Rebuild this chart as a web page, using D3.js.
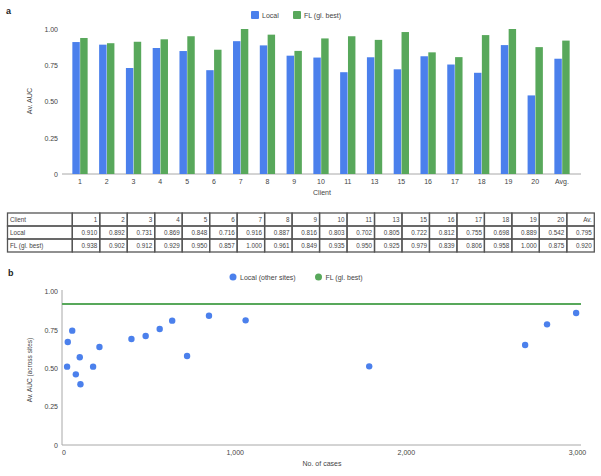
<!DOCTYPE html>
<html>
<head>
<meta charset="utf-8">
<script src="https://cdn.jsdelivr.net/npm/d3@7"></script>
<style>
  body { margin: 0; background: #fff; }
  svg { font-family: "Liberation Sans", Arial, sans-serif; }
</style>
</head>
<body>
<svg id="chart" width="601" height="476"></svg>
<script>
// data
const clients = ['1','2','3','4','5','6','7','8','9','10','11','13','15','16','17','18','19','20','Avg.'];
const tableHeads = ['1','2','3','4','5','6','7','8','9','10','11','13','15','16','17','18','19','20','Av.'];
const localAuc = [0.910,0.892,0.731,0.869,0.848,0.716,0.916,0.887,0.816,0.803,0.702,0.805,0.722,0.812,0.755,0.698,0.889,0.542,0.795];
const flAuc = [0.938,0.902,0.912,0.929,0.950,0.857,1.000,0.961,0.849,0.935,0.950,0.925,0.979,0.839,0.806,0.958,1.000,0.875,0.920];
const yTicks = [0, 0.25, 0.5, 0.75, 1];

const casesOther = [21,25,51,72,95,99,173,210,397,480,562,635,722,850,1064,1786,2697,2825,2995];
const aucOther = [0.511,0.672,0.746,0.461,0.572,0.396,0.511,0.639,0.691,0.711,0.757,0.811,0.581,0.843,0.813,0.513,0.652,0.787,0.861];
const flBest = 0.920;
const xTicksB = [0, 1000, 2000, 3000];

const blue = '#4b80ec', green = '#58a85b', txt = '#444', axisCol = '#a8a8a8';
const svg = d3.select('#chart');

// ---------- panel a ----------
svg.append('text').attr('x', 6).attr('y', 14).text('a')
  .attr('font-weight', 'bold').attr('font-size', 9).attr('fill', '#222');

const x0 = d3.scaleBand().domain(clients).range([66.6, 575.4]).paddingInner(0.4).paddingOuter(0.2);
const x1 = d3.scaleBand().domain(['local','fl']).range([0, x0.bandwidth()]).padding(0.05);
const yA = d3.scaleLinear().domain([0, 1]).range([174, 29]);

const yAxisA = d3.axisLeft(yA).tickValues(yTicks).tickSize(0).tickPadding(4)
  .tickFormat(d => d === 0 ? '0' : d3.format('.2f')(d));
const gya = svg.append('g').attr('transform', 'translate(62,0)').call(yAxisA);
gya.select('.domain').remove();
gya.selectAll('text').attr('font-size', 7).attr('fill', txt);

svg.append('line').attr('x1', 62).attr('x2', 581).attr('y1', 174).attr('y2', 174)
  .attr('stroke', axisCol).attr('stroke-width', 1);

const xAxisA = d3.axisBottom(x0).tickSize(0).tickPadding(5);
const gxa = svg.append('g').attr('transform', 'translate(0,174)').call(xAxisA);
gxa.select('.domain').remove();
gxa.selectAll('text').attr('font-size', 7).attr('fill', txt);

const groups = svg.append('g').selectAll('g').data(clients).enter().append('g')
  .attr('transform', d => `translate(${x0(d)},0)`);
groups.append('rect')
  .attr('x', x1('local')).attr('width', x1.bandwidth())
  .attr('y', (d, i) => yA(localAuc[i])).attr('height', (d, i) => yA(0) - yA(localAuc[i]))
  .attr('fill', blue);
groups.append('rect')
  .attr('x', x1('fl')).attr('width', x1.bandwidth())
  .attr('y', (d, i) => yA(flAuc[i])).attr('height', (d, i) => yA(0) - yA(flAuc[i]))
  .attr('fill', green);

svg.append('text').attr('transform', 'translate(32,101) rotate(-90)').attr('text-anchor', 'middle')
  .attr('font-size', 7.2).attr('fill', txt).text('Av. AUC');
svg.append('text').attr('x', 322).attr('y', 195).attr('text-anchor', 'middle')
  .attr('font-size', 7).attr('fill', txt).text('Client');

// legend a
const legA = svg.append('g');
legA.append('rect').attr('x', 251).attr('y', 11).attr('width', 8).attr('height', 8).attr('rx', 1).attr('fill', blue);
legA.append('text').attr('x', 262).attr('y', 18).attr('font-size', 7).attr('fill', txt).text('Local');
legA.append('rect').attr('x', 293).attr('y', 11).attr('width', 8).attr('height', 8).attr('rx', 1).attr('fill', green);
legA.append('text').attr('x', 304).attr('y', 18).attr('font-size', 7).attr('fill', txt).text('FL (gl. best)');

// ---------- table ----------
const tLeft = 7.5, tFirst = 64.8, tRight = 594.3, tTop = 213, rowH = 13;
const colW = (tRight - tLeft - tFirst) / tableHeads.length;
const rows = [
  ['Client'].concat(tableHeads),
  ['Local'].concat(localAuc.map(d3.format('.3f'))),
  ['FL (gl. best)'].concat(flAuc.map(d3.format('.3f')))
];
const tbl = svg.append('g');
rows.forEach((row, r) => {
  row.forEach((cell, c) => {
    const cx = c === 0 ? tLeft : tLeft + tFirst + (c - 1) * colW;
    const w = c === 0 ? tFirst : colW;
    tbl.append('rect').attr('x', cx).attr('y', tTop + r * rowH).attr('width', w).attr('height', rowH)
      .attr('fill', 'none').attr('stroke', '#555').attr('stroke-width', 1.3);
    tbl.append('text')
      .attr('x', c === 0 ? cx + 2.5 : cx + w - 2.5)
      .attr('y', tTop + r * rowH + 9)
      .attr('text-anchor', c === 0 ? 'start' : 'end')
      .attr('font-size', 6.3).attr('fill', txt).text(cell);
  });
});

// ---------- panel b ----------
svg.append('text').attr('x', 8).attr('y', 276).text('b')
  .attr('font-weight', 'bold').attr('font-size', 9).attr('fill', '#222');

const xB = d3.scaleLinear().domain([0, 3000]).range([63.5, 577]);
const yB = d3.scaleLinear().domain([0, 1]).range([445, 291.7]);

const gyb = svg.append('g').attr('transform', 'translate(62,0)')
  .call(d3.axisLeft(yB).tickValues(yTicks).tickSize(0).tickPadding(4)
    .tickFormat(d => d === 0 ? '0' : d3.format('.2f')(d)));
gyb.select('.domain').remove();
gyb.selectAll('text').attr('font-size', 7).attr('fill', txt);

const gxb = svg.append('g').attr('transform', 'translate(0,445)')
  .call(d3.axisBottom(xB).tickValues(xTicksB).tickSize(0).tickPadding(5).tickFormat(d3.format(',')));
gxb.select('.domain').remove();
gxb.selectAll('text').attr('font-size', 7).attr('fill', txt);

svg.append('line').attr('x1', 62).attr('x2', 62).attr('y1', 290).attr('y2', 445)
  .attr('stroke', axisCol).attr('stroke-width', 1);
svg.append('line').attr('x1', 62).attr('x2', 581).attr('y1', 445).attr('y2', 445)
  .attr('stroke', axisCol).attr('stroke-width', 1);

svg.append('line').attr('x1', 62).attr('x2', 581).attr('y1', yB(flBest)).attr('y2', yB(flBest))
  .attr('stroke', green).attr('stroke-width', 2);

svg.append('g').selectAll('circle').data(casesOther).enter().append('circle')
  .attr('cx', d => xB(d)).attr('cy', (d, i) => yB(aucOther[i])).attr('r', 3.2)
  .attr('fill', blue);

svg.append('text').attr('transform', 'translate(32,370) rotate(-90)').attr('text-anchor', 'middle')
  .attr('font-size', 6.5).attr('fill', txt).text('Av. AUC (across sites)');
svg.append('text').attr('x', 322).attr('y', 466).attr('text-anchor', 'middle')
  .attr('font-size', 7).attr('fill', txt).text('No. of cases');

// legend b
const legB = svg.append('g');
legB.append('circle').attr('cx', 233).attr('cy', 277).attr('r', 3.5).attr('fill', blue);
legB.append('text').attr('x', 240).attr('y', 279.5).attr('font-size', 7).attr('fill', txt).text('Local (other sites)');
legB.append('circle').attr('cx', 318.5).attr('cy', 277).attr('r', 3.5).attr('fill', green);
legB.append('text').attr('x', 325.5).attr('y', 279.5).attr('font-size', 7).attr('fill', txt).text('FL (gl. best)');
</script>
</body>
</html>
